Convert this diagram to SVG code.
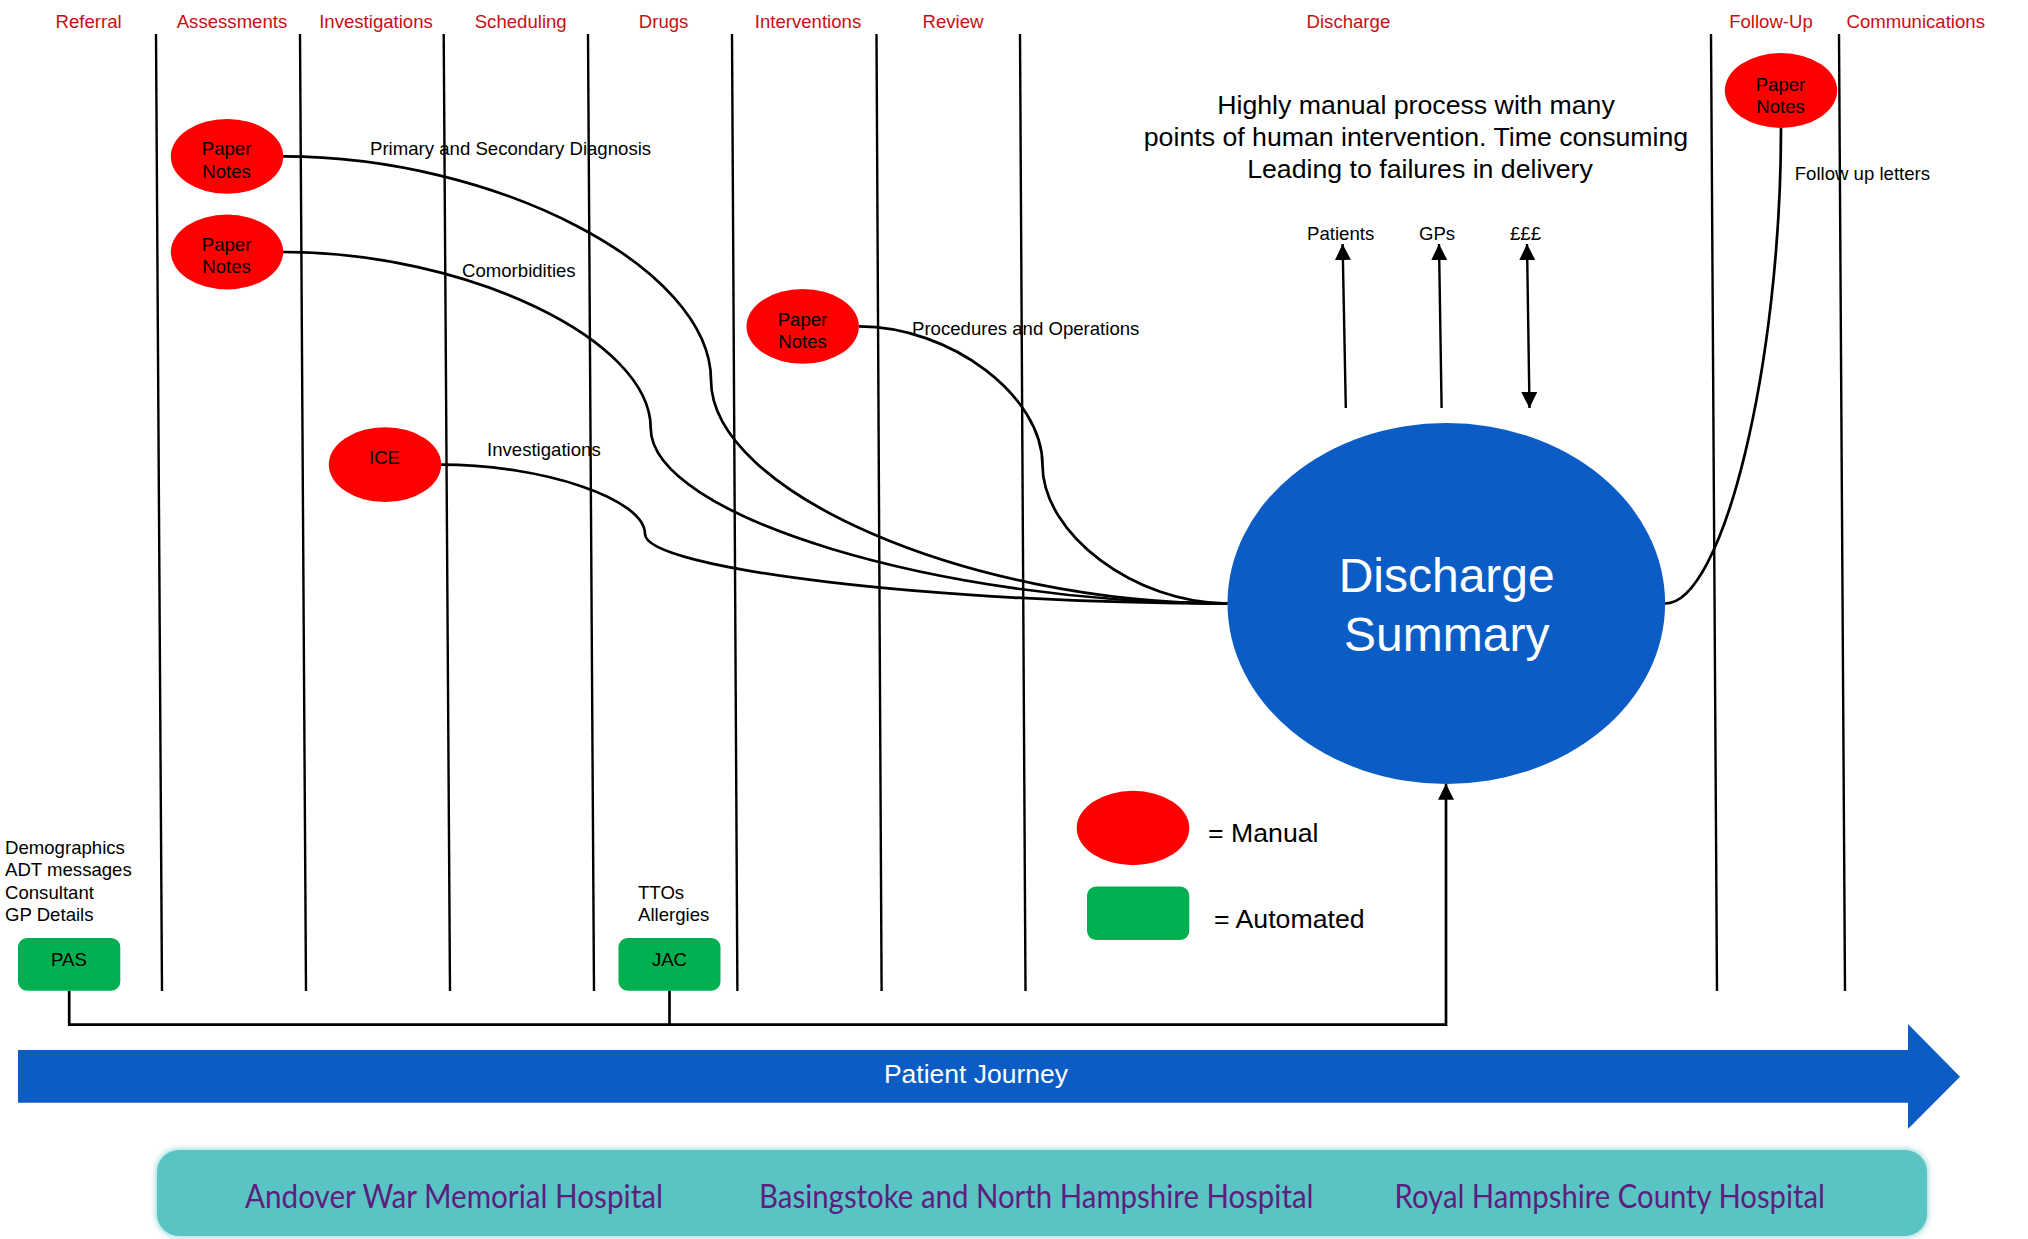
<svg xmlns="http://www.w3.org/2000/svg" width="2028" height="1239" viewBox="0 0 2028 1239">
<style>
text{font-family:"Liberation Sans",Arial,sans-serif;fill:#000}
.h{font-size:18.6px;fill:#c80f14;text-anchor:middle}
.s{font-size:18.6px}
.m{text-anchor:middle}
.p{font-size:26.7px}
.w{fill:#fff;text-anchor:middle}
.man{fill:#ff0000}
.auto{fill:#00b050}
.c{fill:none;stroke:#000;stroke-width:2.7}
.v{stroke:#000;stroke-width:2.4;fill:none}
.hosp{font-family:Lato,"Open Sans",sans-serif;font-size:32px;fill:#5b1f80}
</style>
<defs>
<marker id="a" markerUnits="userSpaceOnUse" viewBox="0 0 16 16" refX="16" refY="8" markerWidth="16" markerHeight="16" orient="auto-start-reverse"><path d="M0 0L16 8L0 16z" fill="#000"/></marker>
<filter id="soft" x="-2%" y="-10%" width="104%" height="120%"><feGaussianBlur stdDeviation="2.5"/></filter>
</defs>
<rect width="2028" height="1239" fill="#fff"/>
<g id="headers">
<text class="h" x="88.6" y="28">Referral</text>
<text class="h" x="232" y="28">Assessments</text>
<text class="h" x="376" y="28">Investigations</text>
<text class="h" x="520.7" y="28">Scheduling</text>
<text class="h" x="663.6" y="28">Drugs</text>
<text class="h" x="808" y="28">Interventions</text>
<text class="h" x="953" y="28">Review</text>
<text class="h" x="1348.4" y="28">Discharge</text>
<text class="h" x="1771" y="28">Follow-Up</text>
<text class="h" x="1915.7" y="28">Communications</text>
</g>
<g id="dividers">
<path class="v" d="M156 34L162 991"/>
<path class="v" d="M300 34L306 991"/>
<path class="v" d="M443.7 34L450 991"/>
<path class="v" d="M588 34L594 991"/>
<path class="v" d="M732 34L737.4 991"/>
<path class="v" d="M876.5 34L881.6 991"/>
<path class="v" d="M1020 34L1025.5 991"/>
<path class="v" d="M1711 34L1717 991"/>
<path class="v" d="M1839 34L1845 991"/>
</g>
<g id="connectors">
<path class="c" d="M283 156.4C497 156.4 711 268 711 380C711 492 969 603.5 1227.5 603.5"/>
<path class="c" d="M283 252C467 252 650.7 340 650.7 428C650.7 516 939 603.5 1227.5 603.5"/>
<path class="c" d="M441 464.6C543 464.6 645 499 645 534C645 569 936 603.5 1227.5 603.5"/>
<path class="c" d="M859 326.4C951 326.4 1042.5 396 1042.5 465C1042.5 534 1135 603.5 1227.5 603.5"/>
<path class="c" d="M1665 603.5C1723 603.5 1781 365 1781 127.7"/>
<path class="v" d="M1345.8 408L1342.6 244" marker-end="url(#a)"/>
<path class="v" d="M1441.6 408L1439 244" marker-end="url(#a)"/>
<path class="v" d="M1529.5 408L1527 244" marker-start="url(#a)" marker-end="url(#a)"/>
<path class="c" d="M69.2 990.7V1024.7H1446V783.8" marker-end="url(#a)"/>
<path class="c" d="M669.5 990.7V1024.7"/>
</g>
<g id="labels">
<text class="s" x="370" y="154.5">Primary and Secondary Diagnosis</text>
<text class="s" x="462" y="277">Comorbidities</text>
<text class="s" x="912" y="335">Procedures and Operations</text>
<text class="s" x="487" y="456">Investigations</text>
<text class="s" x="1794.7" y="180">Follow up letters</text>
<text class="s" x="1307" y="239.6">Patients</text>
<text class="s" x="1419" y="239.6">GPs</text>
<text class="s" x="1510" y="239.6">£££</text>
<text class="s" x="5" y="854">Demographics</text>
<text class="s" x="5" y="876">ADT messages</text>
<text class="s" x="5" y="899">Consultant</text>
<text class="s" x="5" y="921">GP Details</text>
<text class="s" x="638" y="899">TTOs</text>
<text class="s" x="638" y="921">Allergies</text>
<text class="p m" x="1416" y="114">Highly manual process with many</text>
<text class="p m" x="1416" y="145.5">points of human intervention. Time consuming</text>
<text class="p m" x="1420" y="178">Leading to failures in delivery</text>
</g>
<g id="notes-diagnosis"><ellipse class="man" cx="227" cy="156.4" rx="56.2" ry="37.4"/><text class="s m" x="226.6" y="155">Paper</text><text class="s m" x="226.6" y="178">Notes</text></g>
<g id="notes-comorbidities"><ellipse class="man" cx="227" cy="252" rx="56.2" ry="37.4"/><text class="s m" x="226.6" y="250.7">Paper</text><text class="s m" x="226.6" y="273">Notes</text></g>
<g id="notes-procedures"><ellipse class="man" cx="802.7" cy="326.4" rx="56.2" ry="37.4"/><text class="s m" x="802.5" y="326">Paper</text><text class="s m" x="802.5" y="348">Notes</text></g>
<g id="ice"><ellipse class="man" cx="385" cy="464.6" rx="56.2" ry="37.4"/><text class="s m" x="384.5" y="464">ICE</text></g>
<g id="notes-followup"><ellipse class="man" cx="1781" cy="90.5" rx="56.2" ry="37.4"/><text class="s m" x="1780.5" y="90.5">Paper</text><text class="s m" x="1780.5" y="112.5">Notes</text></g>
<g id="pas"><rect class="auto" x="18" y="938" width="102.3" height="52.7" rx="9"/><text class="s m" x="69" y="966">PAS</text></g>
<g id="jac"><rect class="auto" x="618.5" y="938" width="102" height="52.7" rx="9"/><text class="s m" x="669.5" y="966">JAC</text></g>
<g id="discharge-summary"><ellipse cx="1446.3" cy="603.5" rx="218.8" ry="180.4" fill="#0b5cc4"/><text class="w" font-size="48" x="1446.7" y="592">Discharge</text><text class="w" font-size="48" x="1446.7" y="651">Summary</text></g>
<g id="legend-manual"><ellipse class="man" cx="1133" cy="828" rx="56.3" ry="37.2"/><text class="p" x="1208" y="842">= Manual</text></g>
<g id="legend-automated"><rect class="auto" x="1087" y="886.5" width="102.3" height="53.5" rx="9"/><text class="p" x="1214" y="928">= Automated</text></g>
<g id="patient-journey"><path d="M18 1050H1908V1024L1960 1076.8L1908 1129V1102.8H18z" fill="#0b5cc4"/><text class="w" font-size="26.5" x="976" y="1083">Patient Journey</text></g>
<g id="hospitals">
<rect x="155" y="1148" width="1774" height="90" rx="24" fill="#5ac3c3" opacity=".5" filter="url(#soft)"/>
<rect x="157" y="1150" width="1770" height="86" rx="22" fill="#5ac3c3"/>
<text class="hosp" x="245" y="1208" textLength="418" lengthAdjust="spacingAndGlyphs">Andover War Memorial Hospital</text>
<text class="hosp" x="759" y="1208" textLength="554.5" lengthAdjust="spacingAndGlyphs">Basingstoke and North Hampshire Hospital</text>
<text class="hosp" x="1394.6" y="1208" textLength="430.4" lengthAdjust="spacingAndGlyphs">Royal Hampshire County Hospital</text>
</g>
</svg>
